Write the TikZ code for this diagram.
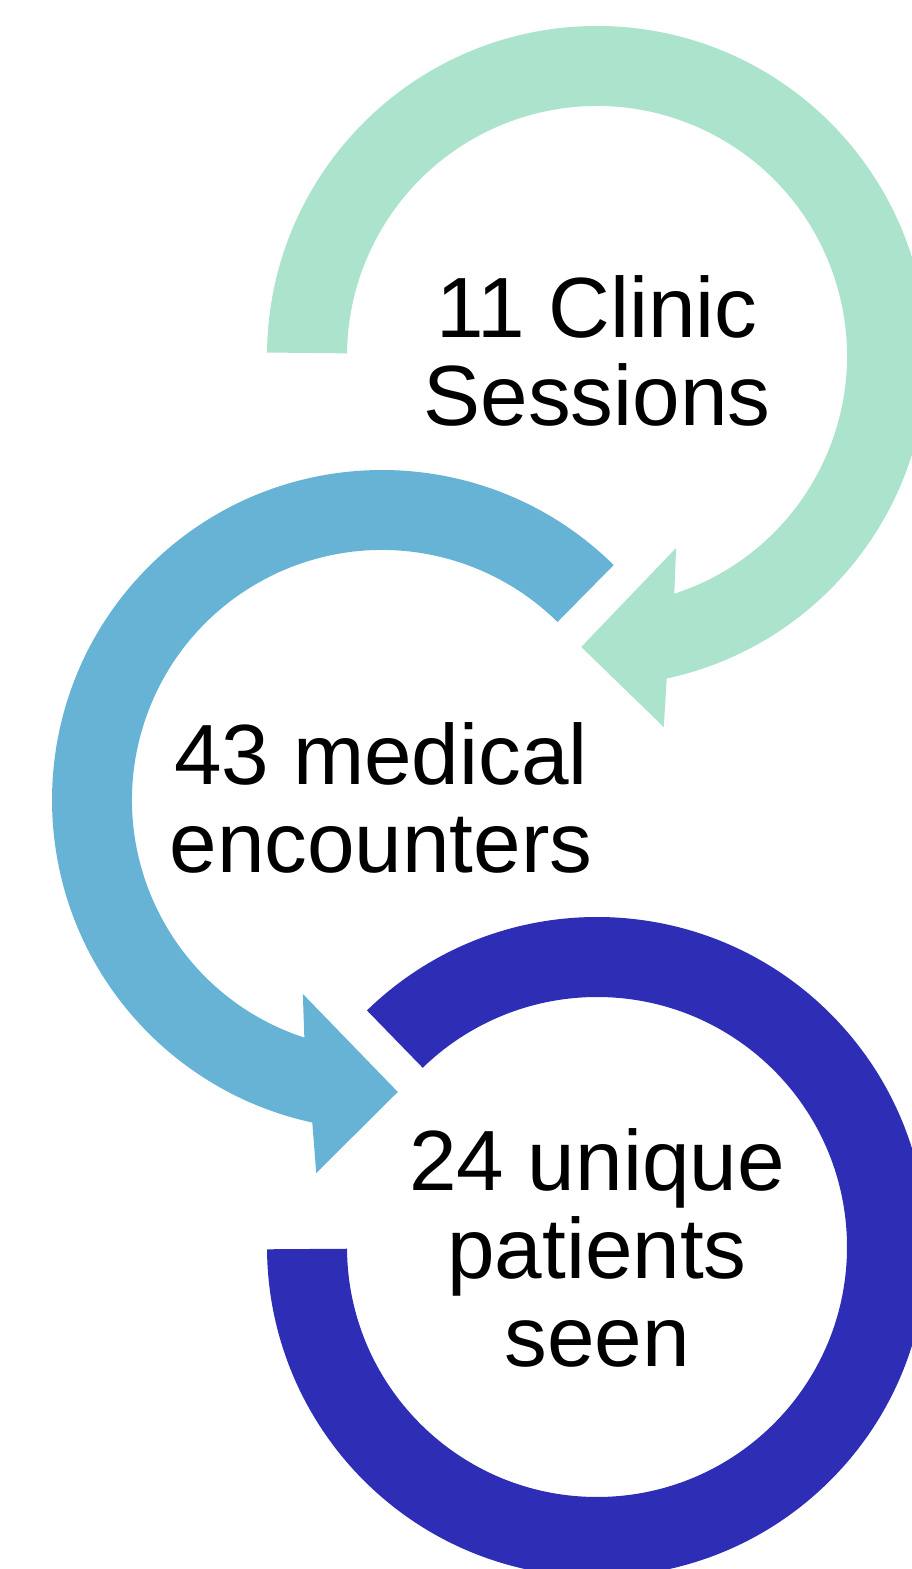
\documentclass[tikz,border=0pt]{standalone}
\usepackage{fontspec}
\setmainfont{Liberation Sans}
\definecolor{cgreen}{RGB}{171,227,204}
\definecolor{cblue}{RGB}{103,179,213}
\definecolor{cdark}{RGB}{46,45,182}
\begin{document}
\begin{tikzpicture}[x=1pt,y=1pt,
  lbl/.style={font=\fontsize{85.5}{88}\selectfont, align=center, anchor=base, inner sep=0pt, text=black}]
\useasboundingbox (0,0) rectangle (912,1569);
\clip (0,0) rectangle (912,1569);
% green circular arrow
\begin{scope}[shift={(597,1213)}]
\fill[cgreen] (179.4:330) arc[start angle=179.4, end angle=-77.8, radius=330]
  -- (-79.8:377) -- (-93.1:291.4) -- (-67.6:207.6) -- (-72:250)
  arc[start angle=-72, end angle=179.4, radius=250] -- cycle;
\end{scope}
% blue circular arrow
\begin{scope}[shift={(382,769)}]
\fill[cblue] (45.4:330) arc[start angle=45.4, end angle=257.8, radius=330]
  -- (260:378.8) -- (273.1:292.4) -- (247.8:209.5) -- (251.9:250)
  arc[start angle=251.9, end angle=45.4, radius=250] -- cycle;
\end{scope}
% dark blue ring
\begin{scope}[shift={(597,322)}]
\fill[cdark] (134.2:330) arc[start angle=134.2, end angle=-179.6, radius=330]
  -- (-179.6:250) arc[start angle=-179.6, end angle=134.2, radius=250] -- cycle;
\end{scope}
\node[lbl] (t1) at (597,1143) {11 Clinic\\Sessions};
\node[lbl] (t2) at (381,696) {43 medical\\encounters};
\node[lbl] (t3) at (597,202) {24 unique\\patients\\seen};
\end{tikzpicture}
\end{document}
